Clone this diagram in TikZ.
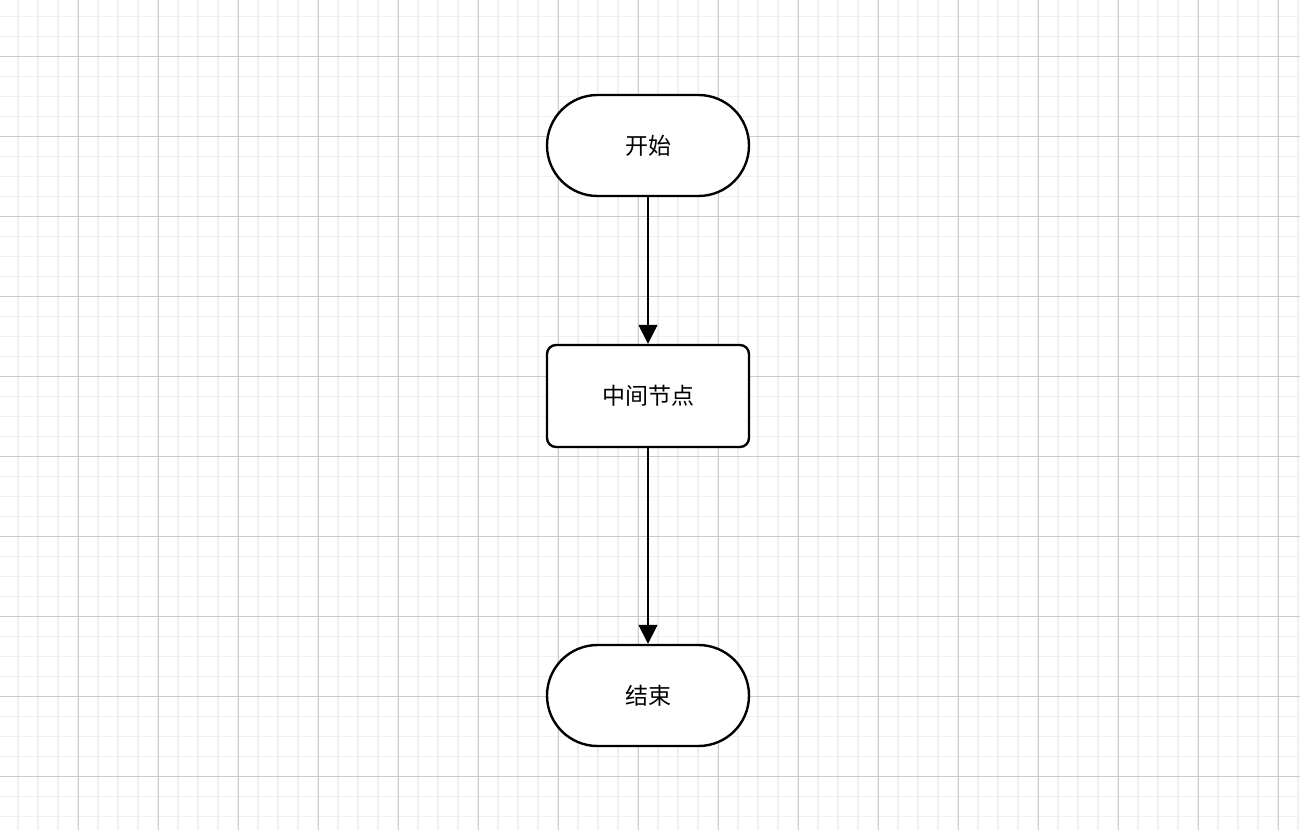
\documentclass[tikz,border=0pt]{standalone}
\usepackage{fontspec}
\setmainfont{Noto Sans CJK SC}
\usetikzlibrary{arrows.meta,shapes.misc}
\definecolor{minorgrid}{HTML}{F0F0F0}
\definecolor{majorgrid}{HTML}{CBCBCB}
\tikzset{
  terminal/.style={draw=black, line width=2.4pt, fill=white, rounded rectangle,
    minimum width=202pt, minimum height=101pt, inner sep=0pt, font=\fontsize{23}{26}\selectfont},
  process/.style={draw=black, line width=2.4pt, fill=white, rectangle, rounded corners=9pt,
    minimum width=202pt, minimum height=102pt, inner sep=0pt, font=\fontsize{23}{26}\selectfont},
  flow/.style={draw=black, line width=1.6pt, -{Triangle[length=19pt,width=19pt]}}
}
\begin{document}
\begin{tikzpicture}[x=1pt,y=-1pt]
\useasboundingbox (0,0) rectangle (1300,830);
\fill[white] (0,0) rectangle (1300,830);
% minor grid
\foreach \i in {0,...,65} {
  \draw[minorgrid, line width=1.2pt] ({-2+20*\i},0) -- ({-2+20*\i},830);
}
\foreach \j in {0,...,42} {
  \draw[minorgrid, line width=1.2pt] (0,{-3.3+20*\j}) -- (1300,{-3.3+20*\j});
}
% major grid
\foreach \i in {0,...,16} {
  \draw[majorgrid, line width=0.8pt] ({78+80*\i},0) -- ({78+80*\i},830);
}
\foreach \j in {0,...,9} {
  \draw[majorgrid, line width=0.8pt] (0,{56.7+80*\j}) -- (1300,{56.7+80*\j});
}
\node[terminal] (start) at (648,145.5) {\raisebox{-1.5pt}{开始}};
\node[process] (mid) at (648,396) {\raisebox{-1.5pt}{中间节点}};
\node[terminal] (end) at (648,695.5) {\raisebox{-1.5pt}{结束}};
\draw[flow] (start) -- (mid);
\draw[flow] (mid) -- (end);
\end{tikzpicture}
\end{document}
